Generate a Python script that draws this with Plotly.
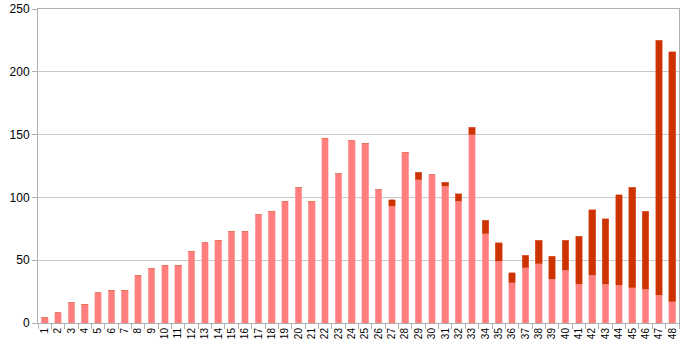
import plotly.graph_objects as go

categories = [str(i) for i in range(1, 49)]
pink_values = [4, 8, 16, 15, 24, 26, 26, 38, 43, 46, 46, 57, 64, 66, 73, 73, 86, 89, 97, 108,
               97, 147, 119, 145, 143, 106, 93, 136, 114, 118, 109, 97, 150, 71, 49, 32, 44, 47,
               35, 42, 31, 38, 31, 30, 28, 27, 22, 17]
dark_values = [0, 0, 0, 0, 0, 0, 0, 0, 0, 0, 0, 0, 0, 0, 0, 0, 0, 0, 0, 0,
               0, 0, 0, 0, 0, 0, 5, 0, 6, 0, 3, 6, 6, 11, 15, 8, 10, 19,
               18, 24, 38, 52, 52, 72, 80, 62, 203, 199]
y_ticks = [0, 50, 100, 150, 200, 250]

fig = go.Figure()
fig.add_trace(go.Bar(x=categories, y=pink_values, marker=dict(color="#FF7F7F", line=dict(color="#FFB3B3", width=0.6)), width=0.5))
fig.add_trace(go.Bar(x=categories, y=dark_values, marker=dict(color="#CC3300", line=dict(color="#E07050", width=0.6)), width=0.5))

fig.update_layout(
    barmode="stack",
    width=685, height=347,
    margin=dict(l=38, r=6, t=9, b=24, autoexpand=False),
    paper_bgcolor="white", plot_bgcolor="white",
    showlegend=False,
    font=dict(family="Liberation Sans, Arial, sans-serif", color="#000000"),
)
fig.update_xaxes(
    type="category", tickangle=-90, tickfont=dict(size=10), automargin=False,
    showline=True, linecolor="#B0B0B0", linewidth=1, mirror=True,
    ticks="outside", ticklen=5, tickcolor="#B0B0B0", tickson="boundaries",
    showgrid=False,
)
fig.update_yaxes(
    range=[0, 250], tickvals=y_ticks, tickfont=dict(size=12), automargin=False,
    showline=True, linecolor="#B0B0B0", linewidth=1, mirror=True,
    ticks="outside", ticklen=5, tickcolor="#B0B0B0",
    showgrid=True, gridcolor="#C8C8C8", gridwidth=1, zeroline=False,
)

fig.write_html("out.html")
